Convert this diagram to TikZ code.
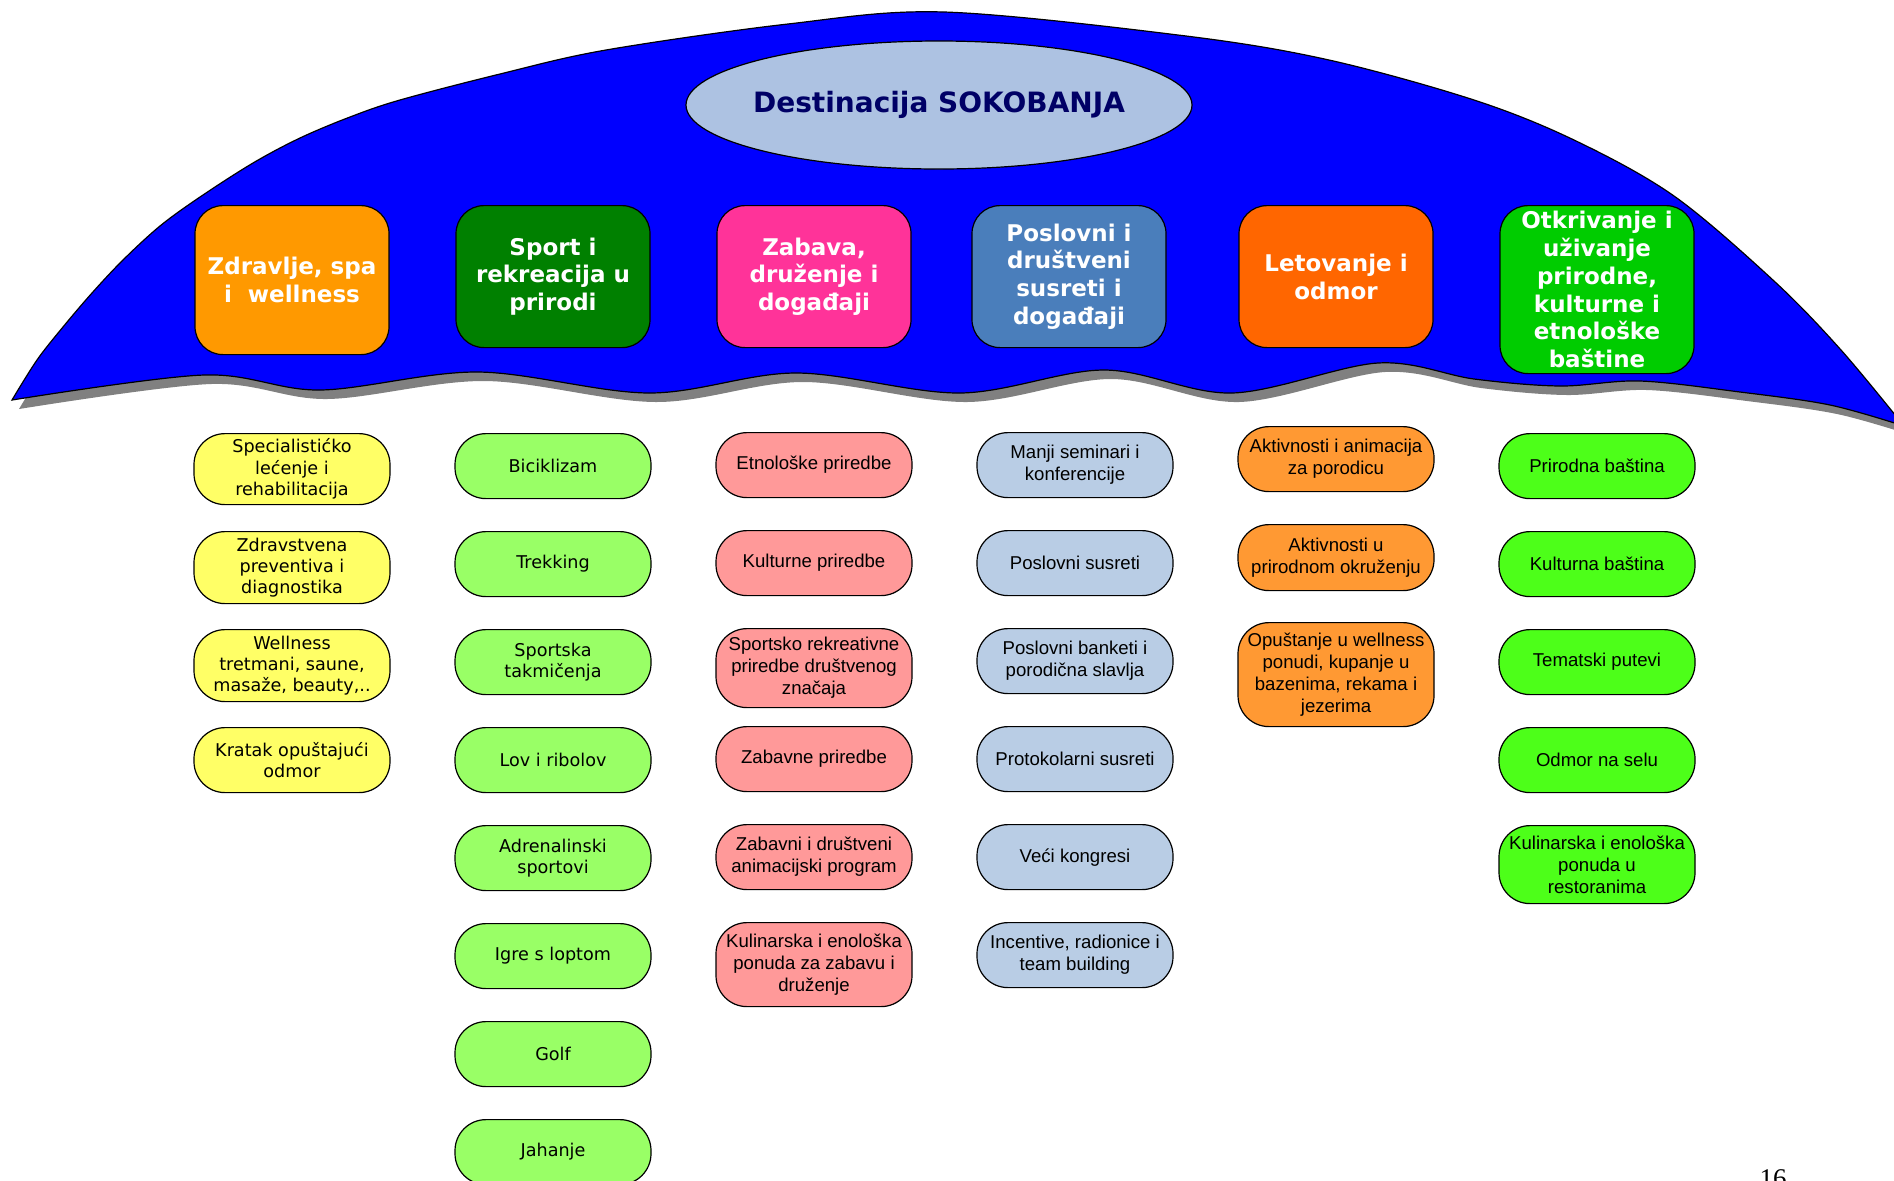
\documentclass[tikz,border=0pt]{standalone}
\usepackage{fontspec}
\setmainfont{DejaVu Sans}
\newfontfamily\arialfont{Liberation Sans}
\newfontfamily\seriffont{Liberation Serif}

\definecolor{titlefill}{RGB}{173,194,226}
\definecolor{titletext}{RGB}{0,0,102}
\definecolor{hzdr}{RGB}{255,153,0}
\definecolor{hspo}{RGB}{0,128,0}
\definecolor{hzab}{RGB}{255,51,153}
\definecolor{hpos}{RGB}{74,126,187}
\definecolor{hlet}{RGB}{255,102,0}
\definecolor{hotk}{RGB}{0,204,0}
\definecolor{izdr}{RGB}{255,255,102}
\definecolor{ispo}{RGB}{153,255,102}
\definecolor{izab}{RGB}{255,153,153}
\definecolor{ipos}{RGB}{185,205,229}
\definecolor{ilet}{RGB}{255,153,51}
\definecolor{iotk}{RGB}{77,255,25}

\tikzset{
  head/.style={draw=black,line width=0.6pt,rounded corners=14pt,text=white,
    minimum width=97pt,inner sep=0pt,align=center,anchor=north,
    font=\fontsize{11.5}{13.9}\selectfont\bfseries},
  item/.style={draw=black,line width=0.6pt,rounded corners=15.5pt,
    minimum width=98pt,inner sep=0pt,align=center,anchor=north},
  vitem/.style={item,font=\fontsize{8.8}{10.7}\selectfont},
  aitem/.style={item,font=\arialfont\fontsize{9.3}{11}\selectfont},
}

\begin{document}
\begin{tikzpicture}[x=0.5pt,y=-0.5pt]
        \useasboundingbox (0,0) rectangle (1894,1180);
        \def\dome{plot[smooth,tension=0.55] coordinates {(12,400) (37,360) (63,327) (92,293) (123,260) (160,226) (200,197) (253,163) (300,138) (350,117) (400,100) (500,74) (606,50) (788,24) (944,12) (1186,36) (1329,60) (1474,100) (1574,140) (1674,196) (1774,281) (1841,350) (1904,426)}
          -- plot[smooth,tension=0.55] coordinates {(1904,426) (1830,405) (1740,392) (1640,381) (1560,386) (1474,379) (1378,363) (1232,393) (1104,370) (960,393) (796,373) (649,393) (478,372) (320,390) (204,375) (12,400)} -- cycle}
        %% dome with shadow
        \fill[gray,shift={(7,9)}] \dome;
        \draw[fill=blue,line width=0.6pt] \dome;
        %% title
        \draw[fill=titlefill,line width=0.6pt] (939,105) ellipse [x radius=126.5pt,y radius=32pt];
        \node[text=titletext,font=\fontsize{14}{16}\selectfont\bfseries] (dest) at (939,105) {Destinacija SOKOBANJA};
        %% categories
        \foreach \n/\x/\h/\c/\t in {zdr/292/149/hzdr/{Zdravlje, spa\\i~~wellness},
            spo/553/142/hspo/{Sport i\\rekreacija u\\prirodi},
            zab/814/142/hzab/{Zabava,\\druženje i\\događaji},
            pos/1069/142/hpos/{Poslovni i\\društveni\\susreti i\\događaji},
            let/1336/142/hlet/{Letovanje i\\odmor},
            otk/1597/168/hotk/{Otkrivanje i\\uživanje\\prirodne,\\kulturne i\\etnološke\\baštine}}
            \node[head,fill=\c,minimum height=\h*0.5pt] (\n) at (\x,205) {\t};
        %% offers
        \foreach \h/\t [count=\i] in {71/{Specialistićko\\lećenje i\\rehabilitacija},
            72/{Zdravstvena\\preventiva i\\diagnostika},
            72/{Wellness\\tretmani, saune,\\masaže, beauty,..},
            65/{Kratak opuštajući\\odmor}}
            \node[vitem,fill=izdr,minimum height=\h*0.5pt] (zdr\i) at (292,{335+98*\i}) {\t};
        \foreach \t [count=\i] in {Biciklizam,Trekking,{Sportska\\takmičenja},Lov i ribolov,
            {Adrenalinski\\sportovi},Igre s loptom,Golf,Jahanje}
            \node[vitem,fill=ispo,minimum height=32.5pt] (spo\i) at (553,{335+98*\i}) {\t};
        \foreach \h/\t [count=\i] in {65/{Etnološke priredbe},65/{Kulturne priredbe},
            79/{Sportsko rekreativne\\priredbe društvenog\\značaja},
            65/{Zabavne priredbe},
            65/{Zabavni i društveni\\animacijski program},
            84/{Kulinarska i enološka\\ponuda za zabavu i\\druženje}}
            \node[aitem,fill=izab,minimum height=\h*0.5pt] (zab\i) at (814,{334+98*\i}) {\t};
        \foreach \t [count=\i] in {{Manji seminari i\\konferencije},Poslovni susreti,
            {Poslovni banketi i\\porodična slavlja},Protokolarni susreti,Veći kongresi,
            {Incentive, radionice i\\team building}}
            \node[aitem,fill=ipos,minimum height=32.5pt] (pos\i) at (1075,{334+98*\i}) {\t};
        \foreach \h/\t [count=\i] in {65/{Aktivnosti i animacija\\za porodicu},
            66/{Aktivnosti u\\prirodnom okruženju},
            104/{Opuštanje u wellness\\ponudi, kupanje u\\bazenima, rekama i\\jezerima}}
            \node[aitem,fill=ilet,minimum height=\h*0.5pt] (let\i) at (1336,{328+98*\i}) {\t};
        \foreach \h/\t [count=\i] in {65/{Prirodna baština},65/{Kulturna baština},
            65/{Tematski putevi},65/{Odmor na selu},
            78/{Kulinarska i enološka\\ponuda u\\restoranima}}
            \node[aitem,fill=iotk,minimum height=\h*0.5pt] (otk\i) at (1597,{335+98*\i}) {\t};
        %% page number
        \node[anchor=base,inner sep=0pt,font=\seriffont\fontsize{13.5}{16}\selectfont] (page) at (1773,1187) {16};
\end{tikzpicture}
\end{document}
